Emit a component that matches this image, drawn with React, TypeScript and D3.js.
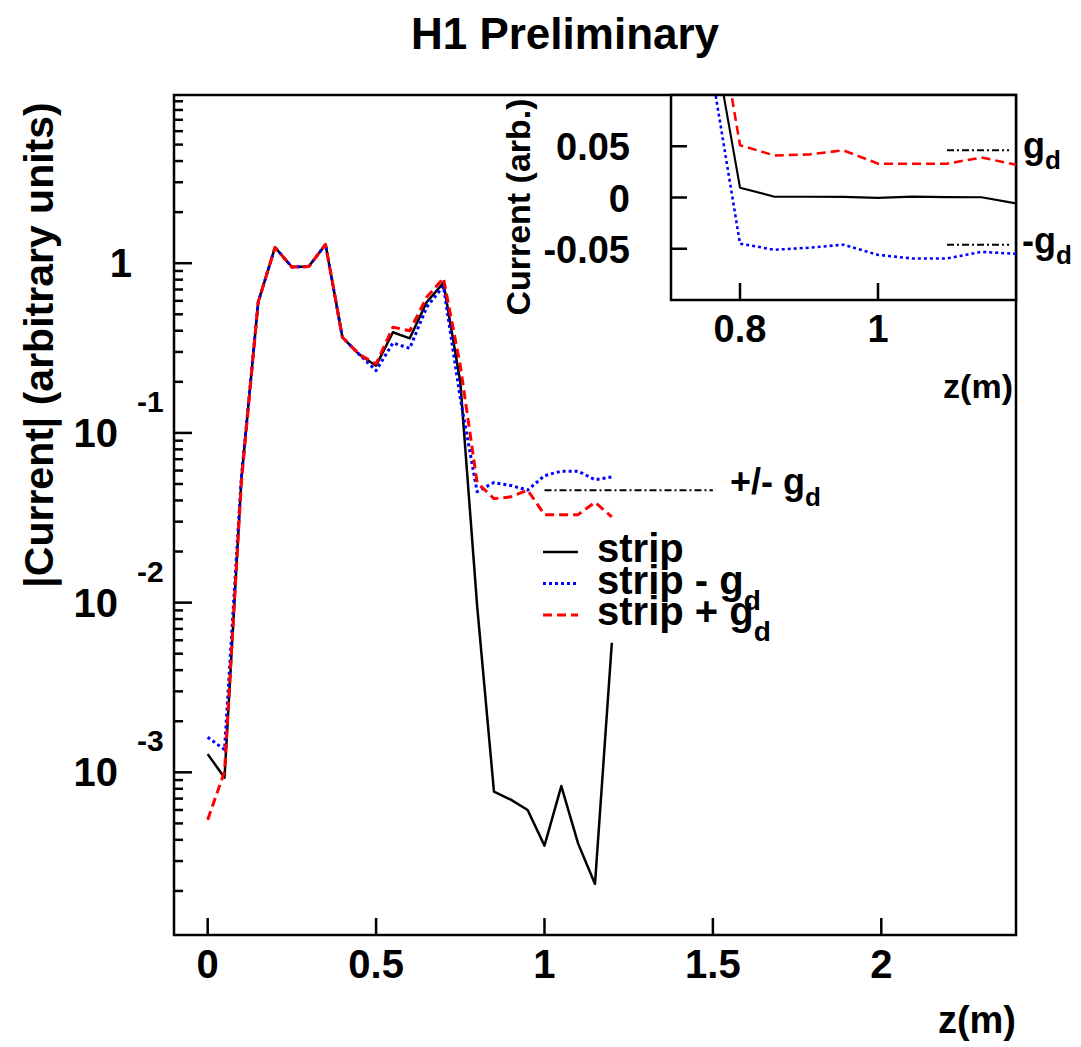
import * as d3 from 'd3';

// z positions (m) of the simulated points
const zPos = [0, 0.05, 0.1, 0.15, 0.2, 0.25, 0.3, 0.35, 0.4, 0.45, 0.5, 0.55, 0.6,
  0.65, 0.7, 0.75, 0.8, 0.85, 0.9, 0.95, 1.0, 1.05, 1.1, 1.15, 1.2];

// signed currents (arbitrary units); main plot shows |value|
const strip = [1.28e-3, 9.3e-4, 0.053, 0.59, 1.24, 0.95, 0.955, 1.29, 0.366, 0.29, 0.249, 0.392, 0.361,
  0.589, 0.766, 0.2, 0.0096, 7.7e-4, 6.9e-4, 6.0e-4, -3.7e-4, 8.3e-4, 3.8e-4, 2.2e-4, -5.8e-3];
const stripMinusGd = [1.61e-3, 1.36e-3, 0.055, 0.59, 1.24, 0.95, 0.955, 1.29, 0.366, 0.29, 0.233, 0.339, 0.315,
  0.55, 0.733, 0.16, -0.045, -0.051, -0.049, -0.046, -0.056, -0.0595, -0.0595, -0.053, -0.055];
const stripPlusGd = [5.25e-4, 1.01e-3, 0.051, 0.59, 1.24, 0.95, 0.955, 1.29, 0.366, 0.29, 0.255, 0.42, 0.40,
  0.63, 0.817, 0.25, 0.051, 0.041, 0.042, 0.046, 0.033, 0.033, 0.033, 0.039, 0.032];

const gd = 0.046;
const gdMainRange = [1.0, 1.5];
const gdInsetRange = [1.1, 1.19];

const xTicks = [0, 0.5, 1, 1.5, 2];
const yDecades = [0, -1, -2, -3];
const insetXTicks = [0.8, 1];
const insetYTicks = [0.05, 0, -0.05];

const FONT = "'Liberation Sans', Arial, Helvetica, sans-serif";

const series = [
  { name: 'strip', values: strip, color: '#000000', dash: '', width: 2.5, sub: '' },
  { name: 'strip - g', values: stripMinusGd, color: '#0000ff', dash: '3 3', width: 3, sub: 'd' },
  { name: 'strip + g', values: stripPlusGd, color: '#ff0000', dash: '9 5', width: 3, sub: 'd' },
];

export default function App() {
  const W = 1081;
  const H = 1047;

  // main pad
  const x = d3.scaleLinear().domain([-0.1, 2.4]).range([174, 1016]);
  const y = d3.scaleLog().domain([1.1e-4, 9.8]).range([935, 95]);

  // inset pad
  const ix = d3.scaleLinear().domain([0.7, 1.2]).range([671, 1016]);
  const iy = d3.scaleLinear().domain([-0.1, 0.1]).range([300, 95]);

  const minorTicks: number[] = [];
  for (let k = -4; k <= 0; k++) {
    for (let m = 2; m <= 9; m++) {
      const v = m * Math.pow(10, k);
      if (v >= 1.1e-4 && v <= 9.8) minorTicks.push(v);
    }
  }

  const mainLine = (vals: number[]) =>
    d3.line<number>()
      .x((_, i) => x(zPos[i]))
      .y((d) => y(Math.abs(d)))(vals) || '';

  const insetLine = (vals: number[]) =>
    d3.line<number>()
      .x((_, i) => ix(zPos[i]))
      .y((d) => iy(d))(vals) || '';

  const [x0, x1] = x.range();
  const [y0, y1] = y.range();

  return (
    <svg width={W} height={H} style={{ position: 'absolute', left: 0, top: 0, background: '#fff' }}
      fontFamily={FONT} fontWeight="bold">
      <defs>
        <clipPath id="mainClip">
          <rect x={x0} y={y1} width={x1 - x0} height={y0 - y1} />
        </clipPath>
        <clipPath id="insetClip">
          <rect x={ix(0.7)} y={iy(0.1)} width={ix(1.2) - ix(0.7)} height={iy(-0.1) - iy(0.1)} />
        </clipPath>
      </defs>
      <rect x={0} y={0} width={W} height={H} fill="#fff" />

      <text x={565} y={49} textAnchor="middle" fontSize={44}>H1 Preliminary</text>

      {/* main frame */}
      <rect x={x0} y={y1} width={x1 - x0} height={y0 - y1} fill="none" stroke="#000" strokeWidth={2.5} />

      {/* x ticks */}
      {xTicks.map((t) => (
        <g key={'xt' + t}>
          <line x1={x(t)} x2={x(t)} y1={y0} y2={y0 - 17} stroke="#000" strokeWidth={2.5} />
          <text x={x(t)} y={978} textAnchor="middle" fontSize={40}>{String(t)}</text>
        </g>
      ))}
      <text x={1016} y={1033} textAnchor="end" fontSize={38}>z(m)</text>

      {/* y ticks */}
      {minorTicks.map((v) => (
        <line key={'ym' + v} x1={x0} x2={x0 + 9} y1={y(v)} y2={y(v)} stroke="#000" strokeWidth={2.5} />
      ))}
      {yDecades.map((k) => {
        const yy = y(Math.pow(10, k));
        return (
          <g key={'yd' + k}>
            <line x1={x0} x2={x0 + 18} y1={yy} y2={yy} stroke="#000" strokeWidth={2.5} />
            {k === 0 ? (
              <text x={132} y={yy + 14} textAnchor="end" fontSize={40}>1</text>
            ) : (
              <>
                <text x={118} y={yy + 14} textAnchor="end" fontSize={40}>10</text>
                <text x={137} y={yy - 21} fontSize={30}>{String(k)}</text>
              </>
            )}
          </g>
        );
      })}
      <text transform="translate(53,345) rotate(-90)" textAnchor="middle" fontSize={41}>
        |Current| (arbitrary units)
      </text>

      {/* main curves */}
      <g clipPath="url(#mainClip)">
        {series.map((s) => (
          <path key={'m' + s.name} d={mainLine(s.values)} fill="none" stroke={s.color}
            strokeWidth={s.width} strokeDasharray={s.dash || undefined} strokeLinejoin="round" />
        ))}
        <line x1={x(gdMainRange[0])} x2={x(gdMainRange[1])} y1={y(gd)} y2={y(gd)}
          stroke="#000" strokeWidth={2} strokeDasharray="7 3 2 3" />
      </g>
      <text x={730} y={494} fontSize={36}>
        +/- g<tspan dy={12} fontSize={26}>d</tspan>
      </text>

      {/* legend */}
      {series.map((s, i) => {
        const by = 562 + i * 31.5;
        return (
          <g key={'lg' + s.name}>
            <line x1={543} x2={578} y1={by - 10} y2={by - 10} stroke={s.color} strokeWidth={s.width}
              strokeDasharray={s.dash || undefined} />
            <text x={597} y={by} fontSize={40}>
              {s.name}
              {s.sub && <tspan dy={16} fontSize={28}>{s.sub}</tspan>}
            </text>
          </g>
        );
      })}

      {/* inset */}
      <rect x={ix(0.7)} y={iy(0.1)} width={ix(1.2) - ix(0.7)} height={iy(-0.1) - iy(0.1)}
        fill="#fff" stroke="#000" strokeWidth={2.5} />
      {insetYTicks.map((t) => (
        <g key={'iy' + t}>
          <line x1={ix(0.7)} x2={ix(0.7) + 16} y1={iy(t)} y2={iy(t)} stroke="#000" strokeWidth={2.5} />
          <text x={630} y={iy(t) + 14} textAnchor="end" fontSize={38}>{String(t)}</text>
        </g>
      ))}
      {insetXTicks.map((t) => (
        <g key={'ix' + t}>
          <line x1={ix(t)} x2={ix(t)} y1={iy(-0.1)} y2={iy(-0.1) - 17} stroke="#000" strokeWidth={2.5} />
          <text x={ix(t)} y={342} textAnchor="middle" fontSize={38}>{String(t)}</text>
        </g>
      ))}
      <text x={1013} y={398} textAnchor="end" fontSize={34}>z(m)</text>
      <text transform="translate(530,207) rotate(-90)" textAnchor="middle" fontSize={34}>
        Current (arb.)
      </text>
      <g clipPath="url(#insetClip)">
        {series.map((s) => (
          <path key={'i' + s.name} d={insetLine(s.values)} fill="none" stroke={s.color}
            strokeWidth={s.width * 0.85} strokeDasharray={s.dash || undefined} strokeLinejoin="round" />
        ))}
        {[gd, -gd].map((g) => (
          <line key={'ig' + g} x1={ix(gdInsetRange[0])} x2={ix(gdInsetRange[1])} y1={iy(g)} y2={iy(g)}
            stroke="#000" strokeWidth={2} strokeDasharray="7 3 2 3" />
        ))}
      </g>
      <text x={1023} y={158} fontSize={36}>
        g<tspan dy={11} fontSize={26}>d</tspan>
      </text>
      <text x={1022} y={253} fontSize={36}>
        -g<tspan dy={11} fontSize={26}>d</tspan>
      </text>
    </svg>
  );
}
